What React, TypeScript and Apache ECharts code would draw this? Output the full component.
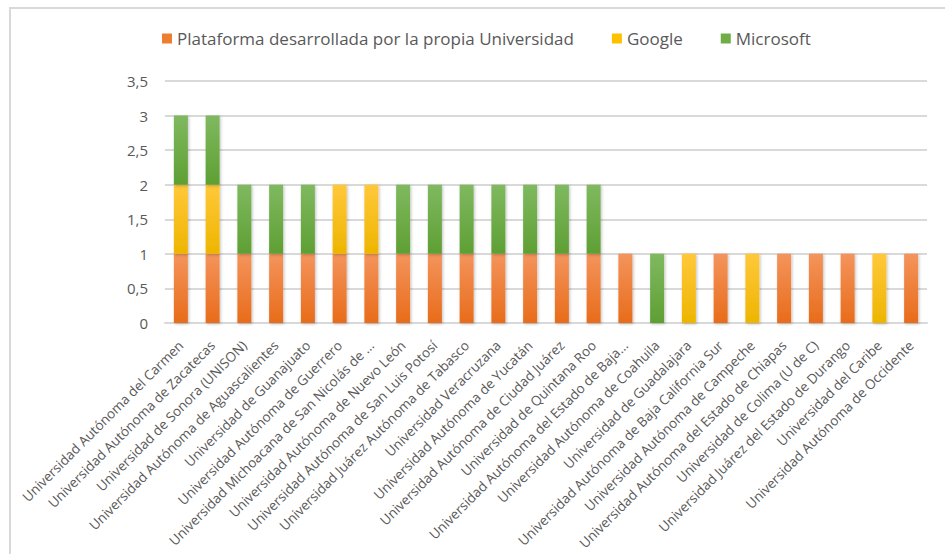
import React, { useEffect, useRef } from "react";
import * as echarts from "echarts";

const categories = [
  "Universidad Autónoma del Carmen",
  "Universidad Autónoma de Zacatecas",
  "Universidad de Sonora (UNISON)",
  "Universidad Autónoma de Aguascalientes",
  "Universidad de Guanajuato",
  "Universidad Autónoma de Guerrero",
  "Universidad Michoacana de San Nicolás de ...",
  "Universidad Autónoma de Nuevo León",
  "Universidad Autónoma de San Luis Potosí",
  "Universidad Juárez Autónoma de Tabasco",
  "Universidad Veracruzana",
  "Universidad Autónoma de Yucatán",
  "Universidad Autónoma de Ciudad Juárez",
  "Universidad de Quintana Roo",
  "Universidad Autónoma del Estado de Baja...",
  "Universidad Autónoma de Coahuila",
  "Universidad de Guadalajara",
  "Universidad Autónoma de Baja California Sur",
  "Universidad Autónoma de Campeche",
  "Universidad Autónoma del Estado de Chiapas",
  "Universidad de Colima (U de C)",
  "Universidad Juárez del Estado de Durango",
  "Universidad del Caribe",
  "Universidad Autónoma de Occidente",
];

const propia = [1, 1, 1, 1, 1, 1, 1, 1, 1, 1, 1, 1, 1, 1, 1, 0, 0, 1, 0, 1, 1, 1, 0, 1];
const google = [1, 1, 0, 0, 0, 1, 1, 0, 0, 0, 0, 0, 0, 0, 0, 0, 1, 0, 1, 0, 0, 0, 1, 0];
const microsoft = [1, 1, 1, 1, 1, 0, 0, 1, 1, 1, 1, 1, 1, 1, 0, 1, 0, 0, 0, 0, 0, 0, 0, 0];

const seriesNames = ["Plataforma desarrollada por la propia Universidad", "Google", "Microsoft"];

const grad = (top: string, bottom: string) =>
  new echarts.graphic.LinearGradient(0, 0, 0, 1, [
    { offset: 0, color: top },
    { offset: 1, color: bottom },
  ]);

export default function App() {
  const ref = useRef<HTMLDivElement>(null);
  useEffect(() => {
    if (!ref.current) return;
    const chart = echarts.init(ref.current, undefined, { renderer: "svg" });
    const font = "'Open Sans', sans-serif";
    const mk = (name: string, data: number[], top: string, bottom: string) => ({
      name,
      type: "bar",
      stack: "total",
      data: data.map((v) => (v === 0 ? null : v)),
      barWidth: 14,
      itemStyle: {
        color: grad(top, bottom),
        shadowColor: "rgba(0,0,0,0.25)",
        shadowBlur: 3,
        shadowOffsetX: 1,
        shadowOffsetY: 1,
      },
    });
    chart.setOption({
      animation: false,
      backgroundColor: "#ffffff",
      color: ["#ED7D31", "#FFC000", "#70AD47"],
      graphic: [
        {
          type: "rect",
          shape: { x: 10, y: 8, width: 960, height: 580 },
          style: { fill: "none", stroke: "#D9D9D9", lineWidth: 2 },
          silent: true,
        },
      ],
      legend: {
        top: 25,
        left: 157,
        itemWidth: 10,
        itemHeight: 10,
        itemGap: 38,
        icon: "rect",
        textStyle: { fontFamily: font, fontSize: 17, color: "#595959" },
        data: [
          { name: seriesNames[0], itemStyle: { color: "#ED7D31" } },
          { name: seriesNames[1], itemStyle: { color: "#FFC000" } },
          { name: seriesNames[2], itemStyle: { color: "#70AD47" } },
        ],
      },
      grid: { left: 165, right: 18, top: 81, bottom: 231, containLabel: false },
      xAxis: {
        type: "category",
        data: categories,
        axisLine: { lineStyle: { color: "#D9D9D9", width: 2 } },
        axisTick: { show: false },
        axisLabel: {
          rotate: 45,
          interval: 0,
          margin: 20,
          fontFamily: font,
          fontSize: 13.5,
          color: "#595959",
        },
      },
      yAxis: {
        type: "value",
        min: 0,
        max: 3.5,
        interval: 0.5,
        axisLine: { show: false },
        axisTick: { show: false },
        splitLine: { lineStyle: { color: "#D9D9D9", width: 2 } },
        axisLabel: {
          margin: 17,
          fontFamily: font,
          fontSize: 15,
          color: "#595959",
          formatter: (v: number) => String(v).replace(".", ","),
        },
      },
      series: [
        mk(seriesNames[0], propia, "#F4945C", "#E86C1A"),
        mk(seriesNames[1], google, "#FFC83A", "#EEB500"),
        mk(seriesNames[2], microsoft, "#80B960", "#5E9F33"),
      ],
    });
    return () => chart.dispose();
  }, []);
  return (
    <div
      ref={ref}
      style={{ position: "fixed", left: 0, top: 0, width: 945, height: 554, background: "#fff" }}
    />
  );
}
